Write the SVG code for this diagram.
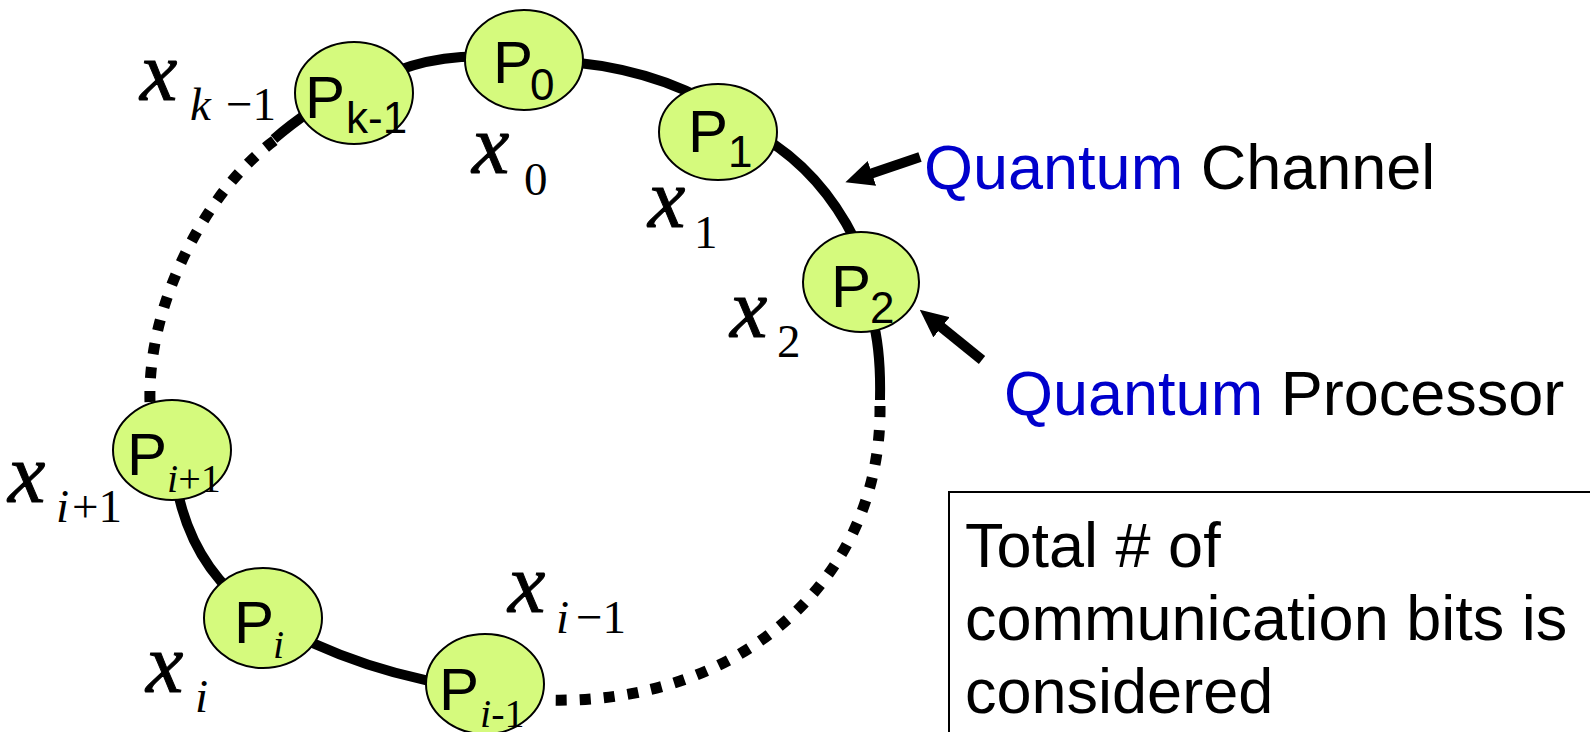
<svg xmlns="http://www.w3.org/2000/svg" width="1590" height="732" viewBox="0 0 1590 732">
<defs>
<style>
.node{fill:#D5FA7D;stroke:#000;stroke-width:2}
.ring{fill:none;stroke:#000;stroke-width:10}
.dot{fill:none;stroke:#000;stroke-width:11;stroke-dasharray:11 13}
.arr{fill:none;stroke:#000;stroke-width:10}
.pl{font-family:"Liberation Sans",Arial,sans-serif;font-size:60px;fill:#000}
.ps{font-family:"Liberation Sans",Arial,sans-serif;font-size:44px;fill:#000}
.pi{font-family:"Liberation Serif","Times New Roman",serif;font-style:italic;font-size:40px;fill:#000}
.pr{font-family:"Liberation Serif","Times New Roman",serif;font-size:40px;fill:#000}
.mx{font-family:"Liberation Serif","Times New Roman",serif;font-style:italic;font-size:84px;fill:#000;stroke:#000;stroke-width:1}
.ms{font-family:"Liberation Serif","Times New Roman",serif;font-size:47px;fill:#000}
.msi{font-family:"Liberation Serif","Times New Roman",serif;font-style:italic;font-size:47px;fill:#000}
.lbl{font-family:"Liberation Sans",Arial,sans-serif;font-size:63px;fill:#000}
.q{fill:#0000CC}
</style>
<marker id="ah" viewBox="0 -13 28 26" refX="2" refY="0" markerWidth="28" markerHeight="26" markerUnits="userSpaceOnUse" orient="auto">
<path d="M0,-13 L28,0 L0,13 z" fill="#000"/>
</marker>
</defs>
<g id="connectors">
<path class="ring" d="M354,93 Q425,45 524,60"/>
<path class="ring" d="M524,60 Q630,60 705,100"/>
<path class="ring" d="M740,125 Q815,160 855,240"/>
<path class="ring" d="M874,325 Q881,355 880,400"/>
<path class="dot" d="M880,406 C882,580 740,705 548,700"/>
<path class="ring" d="M485,690 Q360,675 263,617"/>
<path class="ring" d="M263,617 Q180,565 172,451"/>
<path class="dot" d="M150,402 C147,300 210,185 278,138"/>
<path class="ring" d="M274,139 Q290,125 312,110"/>
<path class="arr" d="M920,157 L870,174" marker-end="url(#ah)"/>
<path class="arr" d="M982,360 L940,326" marker-end="url(#ah)"/>
</g>
<g id="node-pk1">
<ellipse class="node" cx="354" cy="93" rx="59" ry="51"/>
<text class="pl" x="305" y="118">P</text><text class="ps" x="346" y="133">k-1</text>
</g>
<g id="node-p0">
<ellipse class="node" cx="524" cy="60" rx="59" ry="50"/>
<text class="pl" x="493" y="83">P</text><text class="ps" x="530" y="100">0</text>
</g>
<g id="node-p1">
<ellipse class="node" cx="718" cy="132" rx="59" ry="48"/>
<text class="pl" x="688" y="152">P</text><text class="ps" x="728" y="167">1</text>
</g>
<g id="node-p2">
<ellipse class="node" cx="861" cy="282" rx="58" ry="50"/>
<text class="pl" x="831" y="307">P</text><text class="ps" x="870" y="323">2</text>
</g>
<g id="node-pi1">
<ellipse class="node" cx="172" cy="450" rx="59" ry="50"/>
<text class="pl" x="127" y="475">P</text><text x="167" y="492"><tspan class="pi">i</tspan><tspan class="pr">+1</tspan></text>
</g>
<g id="node-pi">
<ellipse class="node" cx="263" cy="618" rx="59" ry="50"/>
<text class="pl" x="234" y="643">P</text><text class="pi" x="273" y="658">i</text>
</g>
<g id="node-pim1">
<ellipse class="node" cx="485" cy="684" rx="59" ry="50"/>
<text class="pl" x="439" y="710">P</text><text x="480" y="727"><tspan class="pi">i</tspan><tspan class="pr">-1</tspan></text>
</g>
<g id="labels">
<text x="140" y="100"><tspan class="mx">x</tspan><tspan class="msi" x="190" y="120">k</tspan><tspan class="ms" x="226" y="120">−1</tspan></text>
<text x="472" y="173"><tspan class="mx">x</tspan><tspan class="ms" x="524" y="195">0</tspan></text>
<text x="648" y="227"><tspan class="mx">x</tspan><tspan class="ms" x="694" y="248">1</tspan></text>
<text x="730" y="337"><tspan class="mx">x</tspan><tspan class="ms" x="777" y="357">2</tspan></text>
<text x="8" y="502"><tspan class="mx">x</tspan><tspan class="msi" x="56" y="522">i</tspan><tspan class="ms" x="72" y="522">+1</tspan></text>
<text x="146" y="692"><tspan class="mx">x</tspan><tspan class="msi" x="195" y="712">i</tspan></text>
<text x="508" y="612"><tspan class="mx">x</tspan><tspan class="msi" x="556" y="633">i</tspan><tspan class="ms" x="576" y="633">−1</tspan></text>
</g>
<g id="label-channel">
<text class="lbl" x="924" y="189"><tspan class="q">Quantum</tspan> Channel</text>
</g>
<g id="label-processor">
<text class="lbl" x="1004" y="415"><tspan class="q">Quantum</tspan> Processor</text>
</g>
<g id="note">
<rect x="949" y="492" width="700" height="300" fill="none" stroke="#000" stroke-width="2"/>
<text class="lbl" x="965" y="567">Total # of</text>
<text class="lbl" x="965" y="640">communication bits is</text>
<text class="lbl" x="965" y="713">considered</text>
</g>
</svg>
